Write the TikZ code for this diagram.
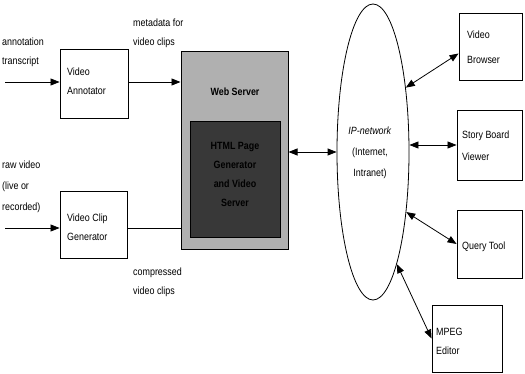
\documentclass[tikz,border=0pt]{standalone}
\usepackage{fontspec}
\setmainfont{Liberation Sans}[FakeStretch=0.85]
\usetikzlibrary{arrows.meta,shapes.geometric}
\begin{document}
\begin{tikzpicture}[x=1pt,y=-1pt,
  every node/.style={font=\fontsize{10.5}{19}\selectfont, inner sep=0pt},
  box/.style={draw, line width=0.9pt, fill=white, minimum width=#1, align=left},
  lbl/.style={align=left, anchor=west},
  arr/.style={line width=0.8pt, -{Triangle[length=9pt,width=7pt]}},
  darr/.style={line width=0.8pt, {Triangle[length=9pt,width=7pt]}-{Triangle[length=9pt,width=7pt]}}]
\useasboundingbox (0,0) rectangle (525,374);
% boxes
\node[box=68pt, minimum height=69pt] (ann) at (94,83.5) {};
\node[lbl] (anntxt) at (67,81) {Video\\Annotator};
\node[box=67pt, minimum height=67pt] (gen) at (93.5,224.5) {};
\node[lbl] (gentxt) at (67,227) {Video Clip\\Generator};
\node[draw, line width=1pt, fill=gray!62, minimum width=107pt, minimum height=198pt] (web) at (234.5,151) {};
\node[font=\fontsize{10.5}{19}\selectfont\bfseries] (webtxt) at (235,92) {Web Server};
\node[draw, line width=1pt, fill=black!78, minimum width=90pt, minimum height=116pt] (inner) at (235,180) {};
\node[align=center, text=black, font=\fontsize{10.5}{19}\selectfont\bfseries] (innertxt) at (235,174) {HTML Page\\Generator\\and Video\\Server};
\node[draw, ellipse, line width=0.8pt, minimum width=72pt, minimum height=296pt] (ell) at (373,152) {};
\node[align=center] (elltxt) at (370,153) {\textit{IP-network}\\[2pt](Internet,\\[2pt]Intranet)};
\node[box=63pt, minimum height=67pt] (vb) at (490.5,46.5) {};
\node[lbl] (vbtxt) at (467,47.5) {Video\\[6pt]Browser};
\node[box=65pt, minimum height=70pt] (sb) at (489.5,145) {};
\node[lbl] (sbtxt) at (462,146) {Story Board\\[3pt]Viewer};
\node[box=65pt, minimum height=68pt] (qt) at (489.5,244) {};
\node[lbl] (qttxt) at (462,247) {Query Tool};
\node[box=70pt, minimum height=67pt] (mpeg) at (467,338.5) {};
\node[lbl] (mpegtxt) at (436,341) {MPEG\\Editor};
% labels
\node[lbl] (l1) at (2,52.5) {annotation\\transcript};
\node[lbl] (l2) at (133,33) {metadata for\\video clips};
\node[lbl] (l3) at (2,187) {raw video\\[2pt](live or\\[2pt]recorded)};
\node[lbl] (l4) at (133,282) {compressed\\video clips};
% connectors
\coordinate (s1) at (5,82);
\coordinate (s2) at (5,228);
\draw[arr] (s1) -- (s1 -| ann.west);
\draw[arr] (ann.east |- s1) -- (s1 -| web.west);
\draw[arr] (s2) -- (s2 -| gen.west);
\draw[line width=0.8pt] (gen.east |- s2) -- (s2 -| web.west);
\draw[darr] (web.east |- ell.west) -- (ell.west);
\draw[darr] (ell.63) -- ([yshift=-7pt]vb.west);
\draw[darr] (sb.west -| ell.east) -- (sb.west);
\draw[darr] (ell.-61) -- (qt.west);
\draw[darr] (ell.-78) -- (mpeg.west);
\end{tikzpicture}
\end{document}
